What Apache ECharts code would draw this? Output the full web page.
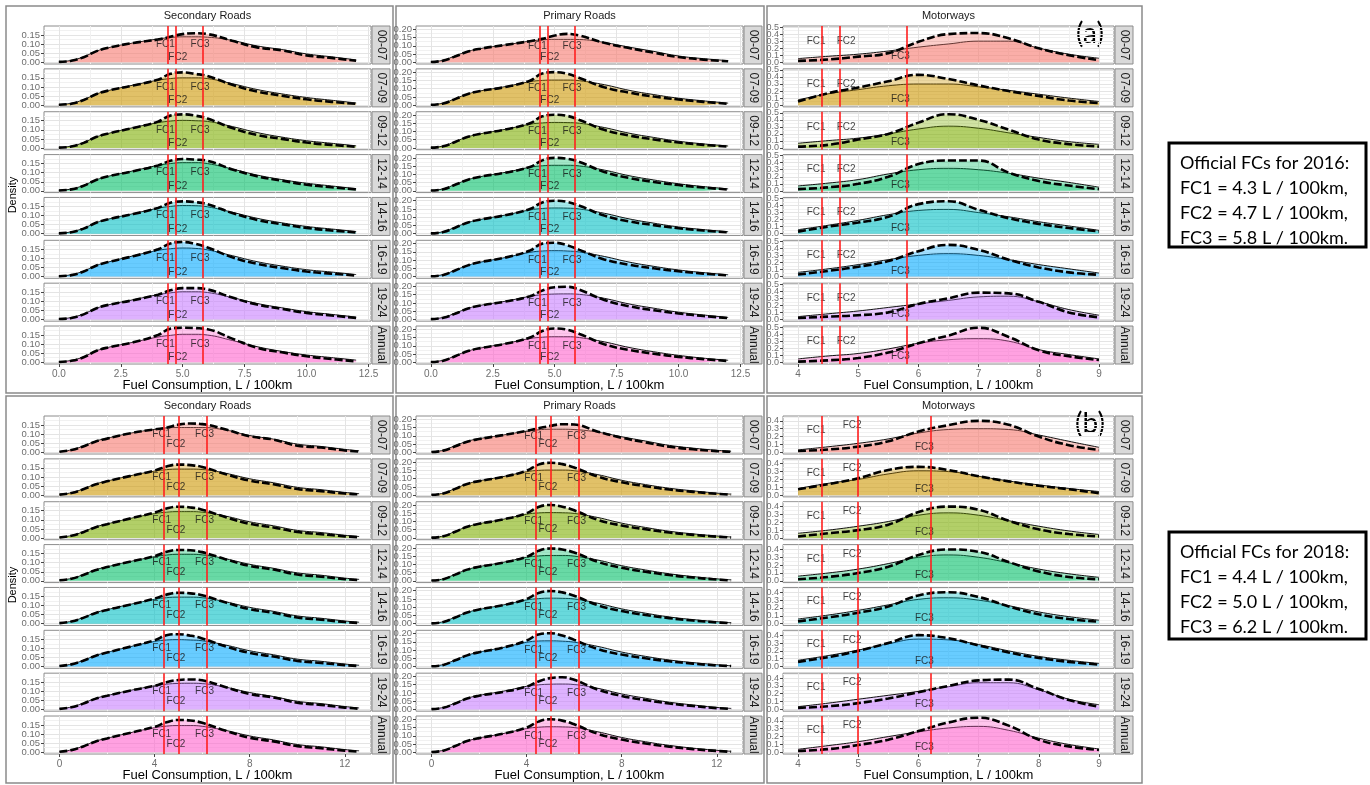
<!DOCTYPE html>
<html>
<head>
<meta charset="utf-8">
<script src="https://cdn.jsdelivr.net/npm/echarts@6.0.0/dist/echarts.min.js"></script>
<style>
html, body { margin: 0; padding: 0; background: #fff; }
#chart { width: 1370px; height: 785px; }
</style>
</head>
<body>
<div id="chart"></div>
<script>
// categories
const periods = ['00-07', '07-09', '09-12', '12-14', '14-16', '16-19', '19-24', 'Annual'];
const roads = ['Secondary Roads', 'Primary Roads', 'Motorways'];
const fcNames = ['FC1', 'FC2', 'FC3'];

// x grids of the density curves (L / 100km)
const xRoadA = [0, 0.5, 1, 1.5, 2, 3, 4, 4.5, 5, 5.5, 6, 7, 8, 9, 10, 11, 12];
const xRoadB = [0, 0.5, 1, 1.5, 2, 3, 4, 4.5, 5, 5.5, 6, 7, 8, 9, 10, 11, 12, 12.6];
const xMotor = [4, 4.5, 5, 5.5, 6, 6.5, 7, 7.5, 8, 8.5, 9];

// (a) 2016 - secondary roads
const secA_dash = [
  [0.002,0.008,0.028,0.06,0.08,0.106,0.125,0.14,0.155,0.16,0.155,0.118,0.082,0.066,0.038,0.024,0.008],
  [0.002,0.008,0.028,0.06,0.08,0.108,0.14,0.172,0.18,0.172,0.16,0.112,0.075,0.052,0.032,0.018,0.007],
  [0.002,0.008,0.028,0.06,0.08,0.11,0.145,0.178,0.185,0.178,0.162,0.11,0.072,0.05,0.03,0.017,0.007],
  [0.002,0.008,0.028,0.06,0.08,0.108,0.14,0.165,0.175,0.172,0.165,0.118,0.08,0.056,0.034,0.02,0.008],
  [0.002,0.008,0.028,0.06,0.08,0.108,0.142,0.17,0.178,0.174,0.162,0.114,0.076,0.052,0.032,0.018,0.007],
  [0.002,0.008,0.028,0.06,0.08,0.112,0.15,0.182,0.19,0.18,0.16,0.106,0.07,0.047,0.028,0.016,0.006],
  [0.002,0.008,0.028,0.06,0.08,0.106,0.136,0.16,0.172,0.172,0.165,0.12,0.082,0.058,0.036,0.022,0.008],
  [0.002,0.008,0.028,0.062,0.082,0.11,0.15,0.185,0.19,0.188,0.182,0.13,0.08,0.055,0.033,0.018,0.005]
];
const secA_solid = [
  [0.003,0.01,0.03,0.06,0.08,0.106,0.128,0.136,0.14,0.14,0.138,0.12,0.09,0.07,0.046,0.03,0.013],
  [0.003,0.01,0.03,0.06,0.08,0.11,0.137,0.146,0.15,0.15,0.146,0.118,0.086,0.062,0.042,0.027,0.012],
  [0.003,0.01,0.03,0.06,0.08,0.112,0.139,0.148,0.152,0.15,0.146,0.118,0.085,0.06,0.04,0.026,0.012],
  [0.003,0.01,0.03,0.06,0.08,0.11,0.14,0.15,0.155,0.155,0.15,0.12,0.087,0.062,0.042,0.027,0.012],
  [0.003,0.01,0.03,0.06,0.08,0.11,0.14,0.15,0.155,0.154,0.148,0.118,0.085,0.06,0.04,0.026,0.012],
  [0.003,0.01,0.03,0.06,0.08,0.114,0.144,0.153,0.157,0.155,0.147,0.115,0.082,0.058,0.038,0.025,0.011],
  [0.003,0.01,0.03,0.06,0.08,0.108,0.136,0.146,0.152,0.152,0.148,0.12,0.088,0.064,0.043,0.028,0.013],
  [0.003,0.01,0.03,0.062,0.082,0.11,0.139,0.148,0.154,0.154,0.15,0.12,0.086,0.06,0.04,0.026,0.012]
];
// (a) 2016 - primary roads
const primA_dash = [
  [0.002,0.01,0.036,0.065,0.082,0.105,0.128,0.142,0.162,0.172,0.162,0.118,0.086,0.058,0.032,0.016,0.006],
  [0.002,0.01,0.038,0.068,0.086,0.11,0.148,0.192,0.2,0.19,0.165,0.108,0.076,0.052,0.034,0.02,0.008],
  [0.002,0.01,0.038,0.068,0.086,0.112,0.15,0.192,0.202,0.195,0.17,0.11,0.076,0.052,0.033,0.019,0.008],
  [0.002,0.01,0.038,0.068,0.086,0.11,0.145,0.185,0.2,0.195,0.175,0.115,0.078,0.054,0.035,0.02,0.008],
  [0.002,0.01,0.038,0.068,0.086,0.112,0.15,0.19,0.2,0.193,0.17,0.11,0.075,0.052,0.033,0.019,0.008],
  [0.002,0.01,0.038,0.068,0.088,0.115,0.158,0.2,0.205,0.19,0.162,0.104,0.072,0.05,0.032,0.018,0.007],
  [0.002,0.01,0.036,0.066,0.084,0.108,0.14,0.175,0.195,0.198,0.18,0.118,0.08,0.056,0.036,0.021,0.008],
  [0.002,0.01,0.038,0.068,0.086,0.112,0.15,0.19,0.205,0.198,0.172,0.11,0.075,0.052,0.033,0.019,0.008]
];
const primA_solid = [
  [0.003,0.012,0.04,0.066,0.083,0.105,0.128,0.136,0.139,0.139,0.138,0.12,0.092,0.066,0.038,0.022,0.01],
  [0.003,0.012,0.04,0.068,0.086,0.112,0.142,0.15,0.152,0.152,0.148,0.124,0.09,0.064,0.042,0.026,0.012],
  [0.003,0.012,0.04,0.068,0.086,0.113,0.144,0.152,0.155,0.154,0.15,0.124,0.09,0.064,0.041,0.025,0.012],
  [0.003,0.012,0.04,0.068,0.086,0.112,0.143,0.152,0.155,0.155,0.151,0.126,0.092,0.066,0.043,0.026,0.012],
  [0.003,0.012,0.04,0.068,0.086,0.113,0.144,0.153,0.156,0.155,0.15,0.124,0.09,0.064,0.041,0.025,0.012],
  [0.003,0.012,0.04,0.068,0.087,0.115,0.147,0.155,0.157,0.155,0.149,0.122,0.088,0.062,0.04,0.024,0.011],
  [0.003,0.012,0.039,0.067,0.085,0.11,0.14,0.15,0.154,0.155,0.152,0.128,0.094,0.068,0.044,0.027,0.012],
  [0.003,0.012,0.04,0.068,0.086,0.113,0.144,0.152,0.155,0.155,0.15,0.124,0.09,0.064,0.042,0.025,0.012]
];
// (a) 2016 - motorways
const motA_dash = [
  [0.02,0.04,0.08,0.13,0.29,0.4,0.415,0.34,0.2,0.1,0.03],
  [0.05,0.17,0.25,0.34,0.43,0.37,0.28,0.2,0.13,0.065,0.03],
  [0.02,0.045,0.12,0.2,0.36,0.48,0.4,0.26,0.12,0.055,0.02],
  [0.024,0.05,0.1,0.2,0.38,0.43,0.43,0.26,0.14,0.075,0.024],
  [0.03,0.1,0.16,0.24,0.42,0.46,0.34,0.22,0.14,0.08,0.033],
  [0.03,0.08,0.14,0.22,0.36,0.45,0.38,0.24,0.13,0.06,0.025],
  [0.02,0.04,0.06,0.1,0.22,0.3,0.38,0.37,0.25,0.1,0.03],
  [0.01,0.028,0.06,0.14,0.27,0.38,0.49,0.36,0.17,0.085,0.033]
];
const motA_solid = [
  [0.052,0.085,0.115,0.16,0.215,0.26,0.3,0.3,0.2,0.115,0.057],
  [0.075,0.16,0.22,0.275,0.3,0.3,0.26,0.21,0.155,0.1,0.052],
  [0.067,0.105,0.14,0.2,0.27,0.31,0.28,0.215,0.15,0.09,0.052],
  [0.07,0.11,0.16,0.24,0.3,0.32,0.3,0.25,0.18,0.12,0.052],
  [0.057,0.12,0.19,0.27,0.33,0.345,0.3,0.24,0.17,0.11,0.048],
  [0.06,0.11,0.17,0.24,0.3,0.325,0.3,0.24,0.17,0.11,0.05],
  [0.04,0.08,0.12,0.17,0.22,0.27,0.32,0.33,0.25,0.14,0.06],
  [0.048,0.09,0.125,0.19,0.27,0.32,0.335,0.3,0.18,0.11,0.048]
];

// (b) 2018 - secondary roads
const secB_dash = [
  [0.003,0.012,0.032,0.058,0.075,0.105,0.126,0.135,0.152,0.158,0.155,0.125,0.088,0.07,0.036,0.026,0.01,0.004],
  [0.003,0.012,0.032,0.058,0.076,0.106,0.135,0.158,0.168,0.165,0.155,0.115,0.08,0.06,0.034,0.022,0.009,0.004],
  [0.003,0.012,0.032,0.058,0.076,0.108,0.14,0.162,0.172,0.168,0.156,0.114,0.078,0.058,0.033,0.021,0.009,0.004],
  [0.003,0.012,0.032,0.058,0.076,0.106,0.136,0.16,0.17,0.168,0.158,0.118,0.082,0.062,0.035,0.023,0.009,0.004],
  [0.003,0.012,0.032,0.058,0.076,0.106,0.138,0.16,0.17,0.167,0.157,0.116,0.08,0.06,0.034,0.022,0.009,0.004],
  [0.003,0.012,0.032,0.058,0.077,0.11,0.145,0.172,0.178,0.17,0.155,0.11,0.075,0.055,0.031,0.02,0.008,0.003],
  [0.003,0.012,0.032,0.058,0.075,0.104,0.13,0.15,0.162,0.165,0.16,0.122,0.085,0.066,0.037,0.025,0.01,0.004],
  [0.003,0.012,0.032,0.058,0.076,0.108,0.14,0.165,0.178,0.175,0.162,0.118,0.08,0.06,0.034,0.022,0.009,0.004]
];
const secB_solid = [
  [0.004,0.013,0.034,0.06,0.077,0.105,0.126,0.134,0.136,0.136,0.136,0.122,0.092,0.072,0.045,0.032,0.016,0.008],
  [0.004,0.013,0.034,0.06,0.077,0.107,0.132,0.14,0.143,0.143,0.141,0.12,0.09,0.068,0.043,0.03,0.015,0.008],
  [0.004,0.013,0.034,0.06,0.077,0.108,0.134,0.142,0.145,0.145,0.142,0.12,0.089,0.067,0.042,0.03,0.015,0.008],
  [0.004,0.013,0.034,0.06,0.077,0.107,0.133,0.142,0.146,0.146,0.143,0.121,0.091,0.069,0.044,0.031,0.015,0.008],
  [0.004,0.013,0.034,0.06,0.077,0.107,0.134,0.143,0.146,0.146,0.143,0.12,0.09,0.068,0.043,0.03,0.015,0.008],
  [0.004,0.013,0.034,0.06,0.078,0.11,0.138,0.146,0.148,0.146,0.142,0.118,0.087,0.065,0.041,0.029,0.014,0.007],
  [0.004,0.013,0.034,0.06,0.076,0.105,0.13,0.139,0.143,0.144,0.142,0.122,0.093,0.071,0.045,0.032,0.016,0.008],
  [0.004,0.013,0.034,0.06,0.077,0.108,0.135,0.144,0.147,0.147,0.143,0.12,0.09,0.068,0.043,0.03,0.015,0.008]
];
// (b) 2018 - primary roads
const primB_dash = [
  [0.002,0.01,0.036,0.064,0.08,0.104,0.13,0.145,0.16,0.17,0.168,0.125,0.088,0.06,0.034,0.018,0.007,0.003],
  [0.002,0.01,0.038,0.068,0.085,0.11,0.148,0.185,0.196,0.188,0.168,0.112,0.078,0.054,0.034,0.02,0.008,0.003],
  [0.002,0.01,0.038,0.068,0.086,0.112,0.15,0.188,0.2,0.19,0.168,0.11,0.076,0.053,0.033,0.019,0.008,0.003],
  [0.002,0.01,0.038,0.068,0.085,0.11,0.146,0.182,0.196,0.19,0.172,0.115,0.079,0.055,0.035,0.02,0.008,0.003],
  [0.002,0.01,0.038,0.068,0.086,0.112,0.15,0.186,0.198,0.19,0.17,0.112,0.077,0.053,0.034,0.019,0.008,0.003],
  [0.002,0.01,0.038,0.068,0.087,0.115,0.158,0.195,0.202,0.188,0.162,0.106,0.073,0.05,0.032,0.018,0.007,0.003],
  [0.002,0.01,0.036,0.066,0.083,0.106,0.138,0.17,0.19,0.195,0.18,0.12,0.082,0.057,0.036,0.021,0.008,0.003],
  [0.002,0.01,0.038,0.068,0.086,0.112,0.15,0.186,0.2,0.192,0.17,0.112,0.077,0.053,0.034,0.019,0.008,0.003]
];
const primB_solid = [
  [0.003,0.012,0.04,0.066,0.082,0.104,0.128,0.136,0.14,0.14,0.138,0.122,0.094,0.068,0.042,0.025,0.012,0.006],
  [0.003,0.012,0.04,0.068,0.086,0.112,0.142,0.15,0.152,0.152,0.148,0.124,0.09,0.064,0.042,0.026,0.012,0.006],
  [0.003,0.012,0.04,0.068,0.086,0.113,0.144,0.152,0.154,0.153,0.149,0.124,0.09,0.064,0.041,0.025,0.012,0.006],
  [0.003,0.012,0.04,0.068,0.086,0.112,0.143,0.151,0.154,0.154,0.15,0.126,0.092,0.066,0.043,0.026,0.012,0.006],
  [0.003,0.012,0.04,0.068,0.086,0.113,0.144,0.152,0.155,0.154,0.15,0.124,0.09,0.064,0.041,0.025,0.012,0.006],
  [0.003,0.012,0.04,0.068,0.087,0.115,0.147,0.155,0.156,0.154,0.148,0.122,0.088,0.062,0.04,0.024,0.011,0.005],
  [0.003,0.012,0.039,0.067,0.085,0.11,0.14,0.149,0.153,0.154,0.151,0.128,0.094,0.068,0.044,0.027,0.012,0.006],
  [0.003,0.012,0.04,0.068,0.086,0.113,0.144,0.152,0.155,0.154,0.15,0.124,0.09,0.064,0.042,0.025,0.012,0.006]
];
// (b) 2018 - motorways
const motB_dash = [
  [0.017,0.035,0.072,0.14,0.265,0.345,0.4,0.35,0.2,0.09,0.03],
  [0.076,0.14,0.215,0.32,0.36,0.32,0.24,0.175,0.12,0.075,0.025],
  [0.02,0.06,0.1,0.17,0.33,0.4,0.36,0.22,0.11,0.05,0.02],
  [0.02,0.05,0.1,0.18,0.33,0.4,0.37,0.24,0.12,0.05,0.02],
  [0.03,0.08,0.14,0.22,0.36,0.4,0.34,0.22,0.12,0.06,0.025],
  [0.06,0.12,0.2,0.3,0.4,0.36,0.27,0.18,0.11,0.06,0.025],
  [0.02,0.04,0.08,0.14,0.22,0.3,0.37,0.38,0.26,0.12,0.035],
  [0.017,0.04,0.093,0.16,0.27,0.38,0.44,0.34,0.16,0.075,0.03]
];
const motB_solid = [
  [0.03,0.07,0.114,0.17,0.245,0.29,0.3,0.29,0.22,0.14,0.063],
  [0.084,0.15,0.2,0.27,0.31,0.3,0.24,0.18,0.13,0.085,0.046],
  [0.06,0.1,0.15,0.21,0.29,0.32,0.29,0.22,0.15,0.09,0.045],
  [0.06,0.1,0.15,0.22,0.3,0.33,0.3,0.23,0.15,0.09,0.045],
  [0.06,0.11,0.17,0.24,0.31,0.33,0.3,0.23,0.15,0.09,0.045],
  [0.08,0.14,0.21,0.29,0.35,0.34,0.28,0.2,0.13,0.08,0.04],
  [0.035,0.08,0.13,0.18,0.23,0.29,0.34,0.34,0.25,0.13,0.06],
  [0.038,0.085,0.135,0.2,0.26,0.31,0.33,0.28,0.18,0.1,0.042]
];

// official FC lines and their labels
const fcLinesA = [4.4, 4.7, 5.8];
const fcLinesB = [4.4, 5.0, 6.2];
const fcLabelXA = [4.3, 4.8, 5.7];
const fcLabelXB = [4.3, 4.9, 6.1];
const fcLabelYA = [[0.1, 0.025, 0.1], [0.1, 0.028, 0.1], [0.3, 0.3, 0.08]];
const fcLabelYB = [[0.1, 0.045, 0.1], [0.1, 0.05, 0.1], [0.28, 0.34, 0.07]];
const boxA = ['Official FCs for 2016:', 'FC1 = 4.3 L / 100km,', 'FC2 = 4.7 L / 100km,', 'FC3 = 5.8 L / 100km.'];
const boxB = ['Official FCs for 2018:', 'FC1 = 4.4 L / 100km,', 'FC2 = 5.0 L / 100km,', 'FC3 = 6.2 L / 100km.'];

// tick labels
const xTicksRoadA = [0, 2.5, 5, 7.5, 10, 12.5], xMinorRoadA = [1.25, 3.75, 6.25, 8.75, 11.25];
const xTicksRoadB = [0, 4, 8, 12], xMinorRoadB = [2, 6, 10];
const xTicksMotor = [4, 5, 6, 7, 8, 9], xMinorMotor = [4.5, 5.5, 6.5, 7.5, 8.5];
const yTicksSec = [0, 0.05, 0.1, 0.15], yMinorSec = [0.025, 0.075, 0.125, 0.175];
const yTicksPrim = [0, 0.05, 0.1, 0.15, 0.2], yMinorPrim = [0.025, 0.075, 0.125, 0.175];
const yTicksMotA = [0, 0.1, 0.2, 0.3, 0.4, 0.5], yMinorMotA = [0.05, 0.15, 0.25, 0.35, 0.45];
const yTicksMotB = [0, 0.1, 0.2, 0.3, 0.4], yMinorMotB = [0.05, 0.15, 0.25, 0.35, 0.45];

const palette = ['#F8766D', '#CD9600', '#7CAE00', '#00BE67', '#00BFC4', '#00A9FF', '#C77CFF', '#FF61CC'];
const FONT = '"Liberation Sans", Arial, sans-serif';

const cols = [
  { left: 44, width: 327 },
  { left: 416, width: 327 },
  { left: 783, width: 331 }
];
const rowPitch = 42.86, rowH = 38;

const panels = [
  {
    top: 26, tag: '(a)', box: boxA, boxTop: 143, boxH: 104,
    xs: [xRoadA, xRoadA, xMotor],
    dash: [secA_dash, primA_dash, motA_dash],
    solid: [secA_solid, primA_solid, motA_solid],
    xRange: [[-0.6, 12.6], [-0.6, 12.6], [3.75, 9.25]],
    xTicks: [[xTicksRoadA, xMinorRoadA, 1], [xTicksRoadA, xMinorRoadA, 1], [xTicksMotor, xMinorMotor, 0]],
    yRange: [[-0.0095, 0.1995], [-0.0105, 0.22], [-0.0245, 0.515]],
    yTicks: [[yTicksSec, yMinorSec, 2], [yTicksPrim, yMinorPrim, 2], [yTicksMotA, yMinorMotA, 1]],
    fcLine: fcLinesA, fcLabelX: fcLabelXA, fcLabelY: fcLabelYA
  },
  {
    top: 416, tag: '(b)', box: boxB, boxTop: 532, boxH: 107,
    xs: [xRoadB, xRoadB, xMotor],
    dash: [secB_dash, primB_dash, motB_dash],
    solid: [secB_solid, primB_solid, motB_solid],
    xRange: [[-0.65, 13.1], [-0.65, 13.1], [3.75, 9.25]],
    xTicks: [[xTicksRoadB, xMinorRoadB, 0], [xTicksRoadB, xMinorRoadB, 0], [xTicksMotor, xMinorMotor, 0]],
    yRange: [[-0.0095, 0.1995], [-0.0105, 0.22], [-0.022, 0.462]],
    yTicks: [[yTicksSec, yMinorSec, 2], [yTicksPrim, yMinorPrim, 2], [yTicksMotB, yMinorMotB, 1]],
    fcLine: fcLinesB, fcLabelX: fcLabelXB, fcLabelY: fcLabelYB
  }
];

const merged = (a, b) => a.concat(b).sort((p, q) => p - q);
const pts = (xs, ys) => xs.map((x, i) => [x, ys[i]]);
const evens = a => a.filter((v, i) => i % 2 === 0);
const odds = a => a.filter((v, i) => i % 2 === 1);

const grids = [], xAxes = [], yAxes = [], series = [], graphics = [];
const colBoxes = [[6, 393], [396, 764], [767, 1142]];
const noLine = { show: false, onZero: false };
const gridLine = { show: true, lineStyle: { color: ['#e4e4e4', '#f1f1f1'], width: 1 } };
const tickStyle = { show: true, inside: false, length: 3, lineStyle: { color: '#444', width: 1 } };
const labelBase = { showMinLabel: true, showMaxLabel: true, hideOverlap: false, color: '#6e6e6e', fontFamily: FONT };

panels.forEach((P, pi) => {
  const boxY0 = pi === 0 ? 6 : 396, boxY1 = pi === 0 ? 393 : 783;
  colBoxes.forEach(([x0, x1]) => {
    graphics.push({ type: 'rect', shape: { x: x0, y: boxY0, width: x1 - x0, height: boxY1 - boxY0 },
      style: { fill: 'none', stroke: '#8a8a8a', lineWidth: 1.5 }, z: 0 });
  });

  cols.forEach((C, ci) => {
    graphics.push({ type: 'text', x: C.left + C.width / 2, y: P.top - 10,
      style: { text: roads[ci], font: '11px ' + FONT, fill: '#1a1a1a', textAlign: 'center', textVerticalAlign: 'middle' } });
    graphics.push({ type: 'text', x: C.left + C.width / 2, y: P.top + 359,
      style: { text: 'Fuel Consumption, L / 100km', font: '13px ' + FONT, fill: '#000', textAlign: 'center', textVerticalAlign: 'middle' } });

    const [xt, xm, xd] = P.xTicks[ci];
    const [yt, ym, yd] = P.yTicks[ci];
    const yFont = ci === 2 ? 9 : 9.5;

    periods.forEach((per, r) => {
      const gi = grids.length;
      const top = P.top + r * rowPitch;
      grids.push({ left: C.left, top: top, width: C.width, height: rowH, show: true,
        backgroundColor: '#fff', borderColor: '#8c8c8c', borderWidth: 1,
        containLabel: false, outerBoundsMode: 'none' });

      const xMin = P.xRange[ci][0], xMax = P.xRange[ci][1];
      const yMin = P.yRange[ci][0], yMax = P.yRange[ci][1];
      // grid lines (major + minor)
      xAxes.push({ gridIndex: gi, type: 'value', min: xMin, max: xMax, position: 'bottom',
        axisLine: noLine, axisLabel: { show: false },
        axisTick: { show: false, customValues: merged(xt, xm) }, splitLine: gridLine });
      // ticks and labels on the bottom row only
      xAxes.push({ gridIndex: gi, type: 'value', min: xMin, max: xMax, show: r === 7, position: 'bottom',
        axisLine: noLine, splitLine: { show: false },
        axisTick: Object.assign({ customValues: xt }, tickStyle),
        axisLabel: Object.assign({ customValues: xt, formatter: v => v.toFixed(xd), fontSize: 10, margin: 5 }, labelBase) });

      // y: two stacked axes so that neighbouring labels are never culled
      yAxes.push({ gridIndex: gi, type: 'value', min: yMin, max: yMax, position: 'left',
        axisLine: noLine,
        axisTick: { show: false, customValues: merged(yt, ym) }, splitLine: gridLine,
        axisLabel: Object.assign({ customValues: evens(yt), formatter: v => v.toFixed(yd), fontSize: yFont, margin: 4 }, labelBase) });
      yAxes.push({ gridIndex: gi, type: 'value', min: yMin, max: yMax, position: 'left', offset: 0,
        axisLine: noLine, splitLine: { show: false },
        axisTick: Object.assign({ customValues: yt }, tickStyle),
        axisLabel: Object.assign({ customValues: odds(yt), formatter: v => v.toFixed(yd), fontSize: yFont, margin: 4 }, labelBase) });

      const xi = 2 * gi, yi = 2 * gi;
      const xs = P.xs[ci];
      series.push({ type: 'line', xAxisIndex: xi, yAxisIndex: yi, data: pts(xs, P.solid[ci][r]),
        smooth: 0.45, symbol: 'none', silent: true, z: 2,
        lineStyle: { color: '#111', width: 1 },
        areaStyle: { color: palette[r], opacity: 0.36 } });
      series.push({ type: 'line', xAxisIndex: xi, yAxisIndex: yi, data: pts(xs, P.dash[ci][r]),
        smooth: 0.45, symbol: 'none', silent: true, z: 3,
        lineStyle: { color: '#000', width: 2.6, type: [8, 3] },
        areaStyle: { color: palette[r], opacity: 0.36 } });
      series.push({ type: 'scatter', xAxisIndex: xi, yAxisIndex: yi, silent: true, z: 4,
        data: fcNames.map((n, k) => [P.fcLabelX[k], P.fcLabelY[ci][k], n]),
        symbolSize: 0,
        label: { show: true, position: 'inside', formatter: p => p.data[2],
          color: '#111', fontSize: 10, fontFamily: FONT },
        markLine: { silent: true, symbol: 'none', animation: false,
          label: { show: false },
          lineStyle: { color: '#ff1f1f', width: 1.6, type: 'solid' },
          data: P.fcLine.map(v => ({ xAxis: v })) } });

      // facet strip
      graphics.push({ type: 'rect', shape: { x: C.left + C.width + 1, y: top, width: 18, height: rowH },
        style: { fill: '#d9d9d9', stroke: '#8c8c8c', lineWidth: 1 } });
      graphics.push({ type: 'text', x: C.left + C.width + 10, y: top + rowH / 2, rotation: -Math.PI / 2,
        style: { text: per, font: '12px ' + FONT, fill: '#1a1a1a', textAlign: 'center', textVerticalAlign: 'middle' } });
    });
  });

  graphics.push({ type: 'text', x: 13, y: P.top + 169, rotation: Math.PI / 2,
    style: { text: 'Density', font: '11px ' + FONT, fill: '#000', textAlign: 'center', textVerticalAlign: 'middle' } });
  graphics.push({ type: 'text', x: 1090, y: P.top + 8,
    style: { text: P.tag, font: '28px Lato, "Open Sans", sans-serif', fill: '#000', textAlign: 'center', textVerticalAlign: 'middle' } });

  graphics.push({ type: 'rect', shape: { x: 1169, y: P.boxTop, width: 197, height: P.boxH },
    style: { fill: '#fff', stroke: '#000', lineWidth: 3 } });
  P.box.forEach((line, k) => {
    graphics.push({ type: 'text', x: 1180, y: P.boxTop + 20 + k * 25,
      style: { text: line, font: '18px Lato, "Open Sans", sans-serif', fill: '#000', textAlign: 'left', textVerticalAlign: 'middle' } });
  });
});

const chart = echarts.init(document.getElementById('chart'));
chart.setOption({
  animation: false,
  backgroundColor: '#fff',
  textStyle: { fontFamily: FONT },
  grid: grids,
  xAxis: xAxes,
  yAxis: yAxes,
  series: series,
  graphic: { elements: graphics }
});
</script>
</body>
</html>
